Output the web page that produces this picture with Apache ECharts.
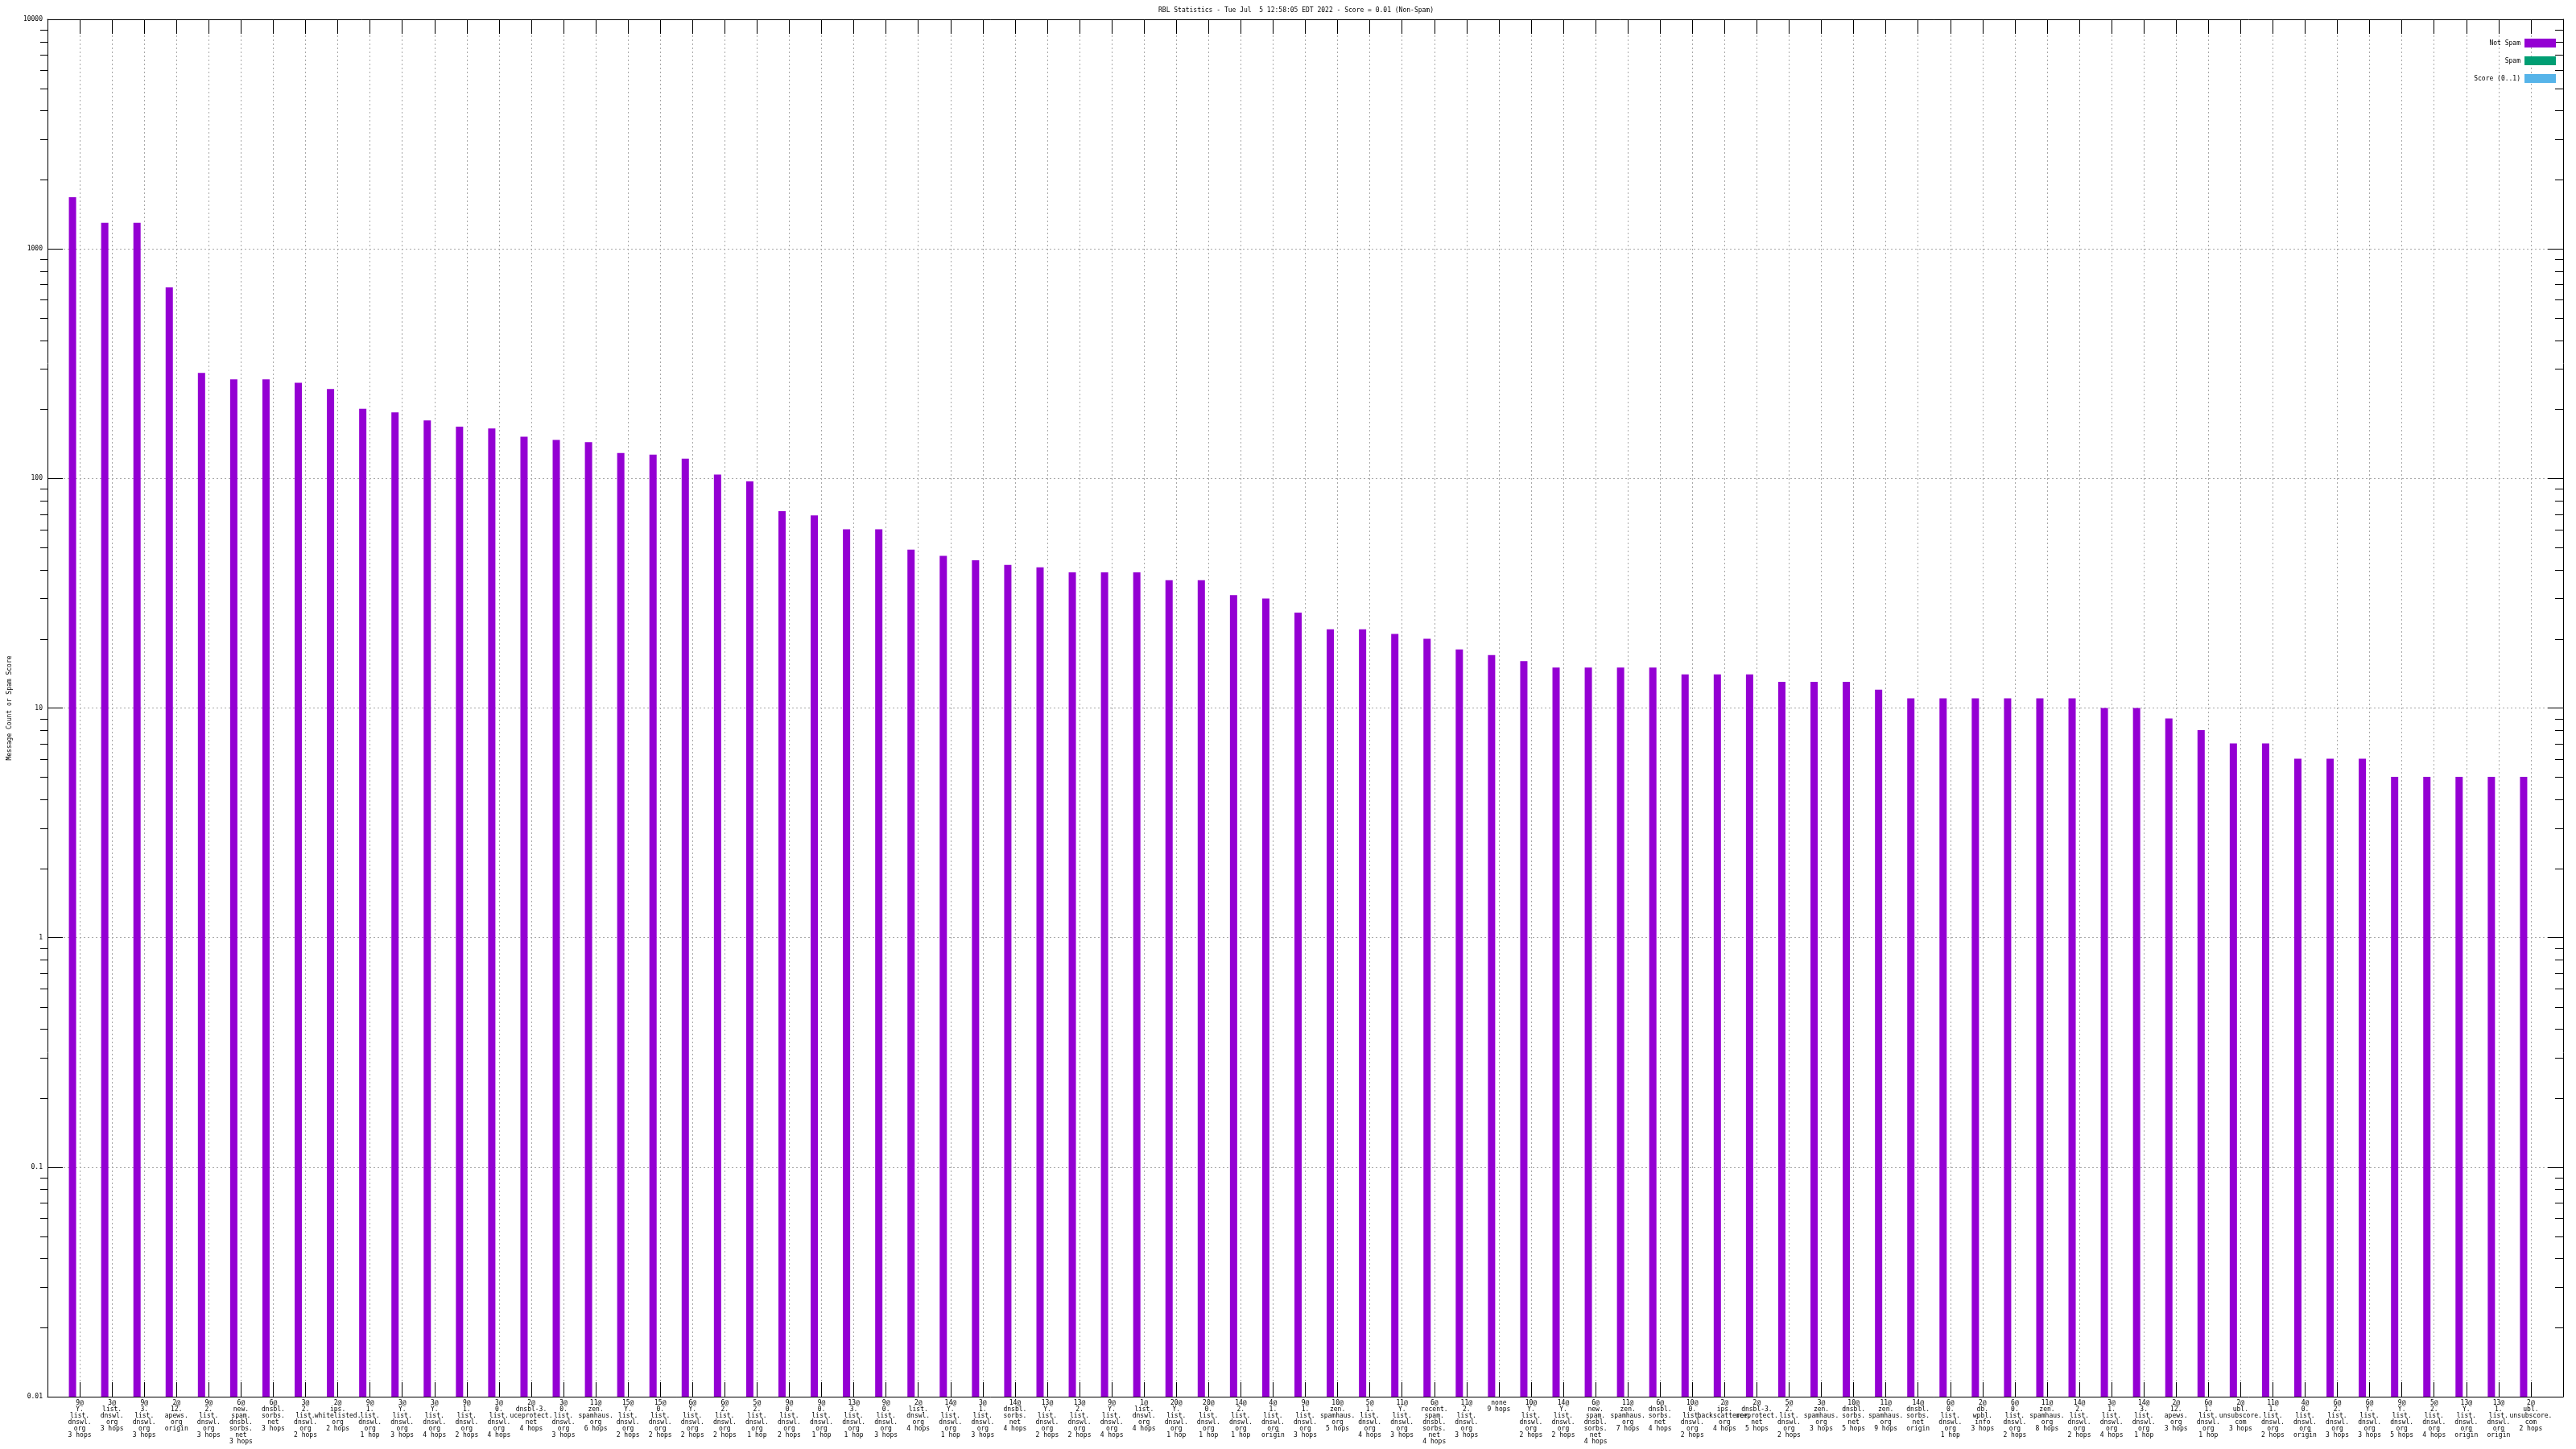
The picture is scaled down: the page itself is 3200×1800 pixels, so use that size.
<!DOCTYPE html>
<html><head><meta charset="utf-8">
<script src="https://cdn.jsdelivr.net/npm/echarts@6/dist/echarts.min.js"></script>
<style>html,body{margin:0;padding:0;background:#fff}#c{width:3200px;height:1800px}</style>
</head><body><div id="c"></div>
<script>
const titleText = 'RBL Statistics - Tue Jul  5 12:58:05 EDT 2022 - Score = 0.01 (Non-Spam)';
const yName = 'Message Count or Spam Score';
const seriesNames = ['Not Spam', 'Spam', 'Score (0..1)'];
const categories = [
 "9@\nY.\nlist.\ndnswl.\norg\n3 hops",
 "3@\nlist.\ndnswl.\norg\n3 hops",
 "9@\n3.\nlist.\ndnswl.\norg\n3 hops",
 "2@\n12.\napews.\norg\norigin",
 "9@\n2.\nlist.\ndnswl.\norg\n3 hops",
 "6@\nnew.\nspam.\ndnsbl.\nsorbs.\nnet\n3 hops",
 "6@\ndnsbl.\nsorbs.\nnet\n3 hops",
 "3@\n2.\nlist.\ndnswl.\norg\n2 hops",
 "2@\nips.\nwhitelisted.\norg\n2 hops",
 "9@\n1.\nlist.\ndnswl.\norg\n1 hop",
 "3@\nY.\nlist.\ndnswl.\norg\n3 hops",
 "3@\nY.\nlist.\ndnswl.\norg\n4 hops",
 "9@\n1.\nlist.\ndnswl.\norg\n2 hops",
 "3@\n0.\nlist.\ndnswl.\norg\n4 hops",
 "2@\ndnsbl-3.\nuceprotect.\nnet\n4 hops",
 "3@\n0.\nlist.\ndnswl.\norg\n3 hops",
 "11@\nzen.\nspamhaus.\norg\n6 hops",
 "15@\nY.\nlist.\ndnswl.\norg\n2 hops",
 "15@\n0.\nlist.\ndnswl.\norg\n2 hops",
 "6@\nY.\nlist.\ndnswl.\norg\n2 hops",
 "6@\n2.\nlist.\ndnswl.\norg\n2 hops",
 "5@\n2.\nlist.\ndnswl.\norg\n1 hop",
 "9@\n0.\nlist.\ndnswl.\norg\n2 hops",
 "9@\n0.\nlist.\ndnswl.\norg\n1 hop",
 "13@\n3.\nlist.\ndnswl.\norg\n1 hop",
 "9@\n0.\nlist.\ndnswl.\norg\n3 hops",
 "2@\nlist.\ndnswl.\norg\n4 hops",
 "14@\nY.\nlist.\ndnswl.\norg\n1 hop",
 "3@\n1.\nlist.\ndnswl.\norg\n3 hops",
 "14@\ndnsbl.\nsorbs.\nnet\n4 hops",
 "13@\nY.\nlist.\ndnswl.\norg\n2 hops",
 "13@\n2.\nlist.\ndnswl.\norg\n2 hops",
 "9@\nY.\nlist.\ndnswl.\norg\n4 hops",
 "1@\nlist.\ndnswl.\norg\n4 hops",
 "20@\nY.\nlist.\ndnswl.\norg\n1 hop",
 "20@\n0.\nlist.\ndnswl.\norg\n1 hop",
 "14@\n2.\nlist.\ndnswl.\norg\n1 hop",
 "4@\n1.\nlist.\ndnswl.\norg\norigin",
 "9@\n1.\nlist.\ndnswl.\norg\n3 hops",
 "10@\nzen.\nspamhaus.\norg\n5 hops",
 "5@\n1.\nlist.\ndnswl.\norg\n4 hops",
 "11@\nY.\nlist.\ndnswl.\norg\n3 hops",
 "6@\nrecent.\nspam.\ndnsbl.\nsorbs.\nnet\n4 hops",
 "11@\n2.\nlist.\ndnswl.\norg\n3 hops",
 "none\n9 hops",
 "10@\nY.\nlist.\ndnswl.\norg\n2 hops",
 "14@\nY.\nlist.\ndnswl.\norg\n2 hops",
 "6@\nnew.\nspam.\ndnsbl.\nsorbs.\nnet\n4 hops",
 "11@\nzen.\nspamhaus.\norg\n7 hops",
 "6@\ndnsbl.\nsorbs.\nnet\n4 hops",
 "10@\n0.\nlist.\ndnswl.\norg\n2 hops",
 "2@\nips.\nbackscatterer.\norg\n4 hops",
 "2@\ndnsbl-3.\nuceprotect.\nnet\n5 hops",
 "5@\n2.\nlist.\ndnswl.\norg\n2 hops",
 "3@\nzen.\nspamhaus.\norg\n3 hops",
 "10@\ndnsbl.\nsorbs.\nnet\n5 hops",
 "11@\nzen.\nspamhaus.\norg\n9 hops",
 "14@\ndnsbl.\nsorbs.\nnet\norigin",
 "6@\n0.\nlist.\ndnswl.\norg\n1 hop",
 "2@\ndb.\nwpbl.\ninfo\n3 hops",
 "6@\n0.\nlist.\ndnswl.\norg\n2 hops",
 "11@\nzen.\nspamhaus.\norg\n8 hops",
 "14@\n2.\nlist.\ndnswl.\norg\n2 hops",
 "3@\n1.\nlist.\ndnswl.\norg\n4 hops",
 "14@\n3.\nlist.\ndnswl.\norg\n1 hop",
 "2@\n12.\napews.\norg\n3 hops",
 "6@\n1.\nlist.\ndnswl.\norg\n1 hop",
 "2@\nubl.\nunsubscore.\ncom\n3 hops",
 "11@\n1.\nlist.\ndnswl.\norg\n2 hops",
 "4@\n0.\nlist.\ndnswl.\norg\norigin",
 "6@\n2.\nlist.\ndnswl.\norg\n3 hops",
 "6@\nY.\nlist.\ndnswl.\norg\n3 hops",
 "9@\nY.\nlist.\ndnswl.\norg\n5 hops",
 "5@\n2.\nlist.\ndnswl.\norg\n4 hops",
 "13@\nY.\nlist.\ndnswl.\norg\norigin",
 "13@\n1.\nlist.\ndnswl.\norg\norigin",
 "2@\nubl.\nunsubscore.\ncom\n2 hops"
];
const notSpam = [
 1680, 1300, 1300, 680, 288, 270, 270, 261, 245, 201,
 194, 179, 168, 165, 152, 147, 144, 129, 127, 122,
 104, 97, 72, 69, 60, 60, 49, 46, 44, 42,
 41, 39, 39, 39, 36, 36, 31, 30, 26, 22,
 22, 21, 20, 18, 17, 16, 15, 15, 15, 15,
 14, 14, 14, 13, 13, 13, 12, 11, 11, 11,
 11, 11, 11, 10, 10, 9, 8, 7, 7, 6,
 6, 6, 5, 5, 5, 5, 5
];
const spam = [];
const score = [];
const yMin = 0.01, yMax = 10000;
const minorMultipliers = [2, 3, 4, 5, 6, 7, 8, 9];
const colors = ['#9400d3', '#009e73', '#56b4e9'];

const FONT = 'DejaVu Sans Mono';
const GL = 50, GT = 24, GR = 16, GB = 65, W = 3200;

const axisCats = [''].concat(categories, ['']);
const pad = arr => ['-'].concat(arr.length ? arr : categories.map(() => '-'), ['-']);
// invisible floor so bars rise from the bottom of the log axis (as in gnuplot)
const floorData = pad(categories.map(() => yMin));

const chart = echarts.init(document.getElementById('c'), null, {renderer: 'canvas'});
const dash = {color: '#a8a8a8', width: 1, type: [2, 3]};
const txt = {fontFamily: FONT, fontSize: 8, color: '#000'};

const legendTops = [48, 70, 92];
const option = {
  backgroundColor: '#fff',
  animation: false,
  title: {text: titleText, left: 1439, top: 9, padding: 0,
    textStyle: Object.assign({fontWeight: 'normal'}, txt)},
  legend: seriesNames.map((n, i) => ({
    data: [n], right: 25, top: legendTops[i], orient: 'vertical', align: 'right',
    itemWidth: 39, itemHeight: 11, padding: 0, icon: 'rect', selectedMode: false,
    textStyle: txt
  })),
  grid: {left: GL, top: GT, right: GR, bottom: GB, containLabel: false},
  xAxis: [{
    type: 'category', data: axisCats, boundaryGap: false, position: 'bottom',
    axisLine: {lineStyle: {color: '#000', width: 1}},
    axisTick: {inside: true, length: 18, interval: 0, lineStyle: {color: '#000'}},
    axisLabel: Object.assign({interval: 0, margin: 4, lineHeight: 8, align: 'center'}, txt),
    splitLine: {show: true, interval: 0, lineStyle: dash}
  }, {
    type: 'category', data: axisCats, boundaryGap: false, position: 'top',
    axisLine: {lineStyle: {color: '#000', width: 1}},
    axisTick: {inside: true, length: 18, interval: 0, lineStyle: {color: '#000'}},
    axisLabel: {show: false}, splitLine: {show: false}
  }],
  yAxis: [{
    type: 'log', logBase: 10, min: yMin, max: yMax, splitNumber: 6, position: 'left',
    name: yName, nameLocation: 'middle', nameGap: 43, nameRotate: 90, nameTextStyle: txt,
    axisLine: {show: true, lineStyle: {color: '#000', width: 1}},
    axisTick: {show: true, inside: true, length: 19, lineStyle: {color: '#000'}},
    axisLabel: Object.assign({margin: 6, formatter: v => String(Number(Number(v).toPrecision(6)))}, txt),
    splitLine: {show: true, lineStyle: dash}
  }, {
    type: 'log', logBase: 10, min: yMin, max: yMax, splitNumber: 6, position: 'right',
    axisLine: {show: true, lineStyle: {color: '#000', width: 1}},
    axisTick: {show: true, inside: true, length: 19, lineStyle: {color: '#000'}},
    axisLabel: {show: false}, splitLine: {show: false}
  }],
  series: [
    {name: '_floor', type: 'bar', stack: 'ns', data: floorData, barWidth: 9, barGap: '0%',
     itemStyle: {color: 'rgba(0,0,0,0)'}, silent: true},
    {name: seriesNames[0], type: 'bar', stack: 'ns', data: pad(notSpam), barWidth: 9, barGap: '0%', itemStyle: {color: colors[0]}},
    {name: seriesNames[1], type: 'bar', data: pad(spam), barWidth: 9, barGap: '0%', itemStyle: {color: colors[1]}},
    {name: seriesNames[2], type: 'bar', data: pad(score), barWidth: 9, barGap: '0%', itemStyle: {color: colors[2]}}
  ]
};
chart.setOption(option);

// minor log ticks (2..9 per decade) placed through the axis scale
const els = [];
const xr = W - GR;
for (let e = Math.log10(yMin); e < Math.log10(yMax); e++) {
  minorMultipliers.forEach(m => {
    const v = m * Math.pow(10, e);
    const y = Math.round(chart.convertToPixel({yAxisIndex: 0}, v)) + 0.5;
    els.push({type: 'line', silent: true, shape: {x1: GL, y1: y, x2: GL + 10, y2: y}, style: {stroke: '#000', lineWidth: 1}});
    els.push({type: 'line', silent: true, shape: {x1: xr - 10, y1: y, x2: xr, y2: y}, style: {stroke: '#000', lineWidth: 1}});
  });
}
chart.setOption({graphic: {elements: els}});
</script>
</body></html>
